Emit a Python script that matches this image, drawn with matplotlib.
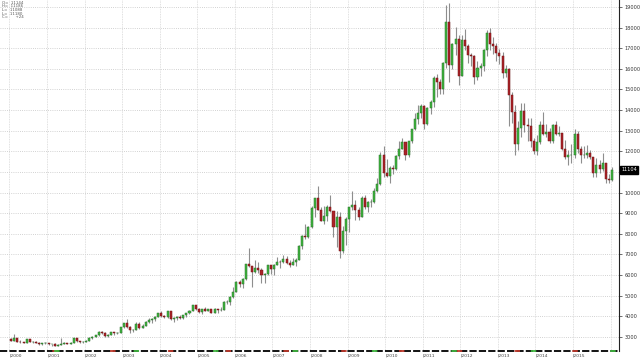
import numpy as np
import matplotlib
matplotlib.use("Agg")
import matplotlib.pyplot as plt
import matplotlib.transforms as mtransforms

# monthly candles, Jan 2000 .. Jan 2016
years = list(range(2000, 2017))
first_open = 2880

close = [
    2830, 2930, 2780, 2740, 2720, 2880, 2770, 2780, 2730, 2640, 2690, 2720,
    2650, 2670, 2580, 2630, 2660, 2700, 2650, 2730, 2930, 2790, 2750, 2780,
    2820, 2970, 3020, 3080, 3260, 3180, 3040, 3120, 3240, 3170, 3180, 3470,
    3670, 3470, 3340, 3360, 3640, 3460, 3540, 3750, 3840, 3860, 3980, 4160,
    4000, 3970, 4270, 3880, 3930, 3950, 3910, 4080, 4160, 4280, 4530, 4380,
    4220, 4350, 4280, 4350, 4160, 4350, 4290, 4330, 4690, 4700, 4950, 5170,
    5690, 5560, 5820, 6550, 6430, 6140, 6330, 6240, 5990, 6040, 6470, 6320,
    6500, 6650, 6630, 6800, 6600, 6500, 6660, 6730, 7430, 7900, 7830, 8340,
    9240, 9720, 9170, 8640, 8860, 9300, 9120, 8340, 8840, 7180, 8150, 8700,
    9280, 9420, 9170, 8840, 9750, 9280, 9540, 9550, 10070, 10400, 11810, 10970,
    10810, 11180, 11130, 11790, 12130, 12440, 11810, 12480, 13070, 13590, 13860, 14210,
    13330, 14110, 14390, 15570, 15360, 15000, 16280, 18280, 16200, 17220, 17460, 15660,
    17400, 17100, 16690, 16640, 15620, 16040, 16140, 16920, 17730, 17190, 17130, 16750,
    16630, 15780, 15970, 14720, 13930, 12340, 13120, 13960, 13270, 13230, 12500, 12020,
    12440, 13260, 12840, 12960, 12500, 13270, 12820, 12870, 12100, 11720, 11830, 11840,
    12830, 12130, 11830, 11830, 11900, 11720, 10950, 11350, 11150, 11420, 10650, 10610,
    11104,
]
high = [
    2930, 3160, 2940, 2870, 2780, 2920, 2900, 2800, 2790, 2740, 2700, 2750,
    2720, 2680, 2700, 2650, 2930, 2750, 2720, 2780, 2950, 2950, 2830, 2800,
    2840, 2990, 3040, 3090, 3270, 3300, 3250, 3150, 3260, 3250, 3230, 3490,
    3700, 3890, 3530, 3410, 3720, 3710, 3650, 3770, 3900, 3940, 4000, 4170,
    4270, 4090, 4280, 4280, 3950, 4000, 4080, 4090, 4180, 4320, 4560, 4560,
    4400, 4380, 4460, 4370, 4370, 4430, 4360, 4470, 4740, 4790, 4970, 5410,
    5700, 5750, 5840, 6560, 7300, 6450, 6750, 6640, 6340, 6090, 6500, 6500,
    6520, 6900, 6730, 6970, 6910, 6730, 6850, 6830, 7450, 7930, 8480, 8360,
    9340, 9750, 10330, 9310, 9370, 9420, 9880, 9130, 9090, 9050, 8380, 8810,
    9290, 10060, 9620, 9300, 9820, 9890, 9590, 9690, 10240, 10700, 11950, 12270,
    11620, 11270, 11350, 11810, 12490, 12650, 12450, 12500, 13100, 13880, 14240, 14310,
    14240, 14140, 14470, 15650, 15770, 15530, 16320, 19110, 19210, 17250, 18040, 17640,
    17630, 17910, 17200, 16780, 16690, 16400, 16290, 16950, 17900, 17960, 17550, 17230,
    16960, 16810, 16170, 16050, 14880, 14240, 13470, 14340, 14340, 13610, 13620, 12670,
    12800, 13450, 13920, 13310, 13150, 13320, 13450, 13230, 12900, 12550, 12080, 12380,
    13070, 12970, 12240, 12240, 12320, 12050, 11750, 11700, 11570, 11910, 11430, 10880,
    11230,
]
low = [
    2800, 2820, 2760, 2730, 2700, 2710, 2760, 2720, 2690, 2630, 2620, 2680,
    2620, 2550, 2560, 2550, 2620, 2650, 2640, 2640, 2700, 2760, 2700, 2720,
    2770, 2800, 2890, 2980, 3070, 3130, 3020, 3010, 3100, 3120, 3140, 3170,
    3430, 3430, 3190, 3220, 3350, 3410, 3420, 3520, 3670, 3670, 3770, 3960,
    3980, 3910, 3930, 3840, 3710, 3840, 3870, 3870, 3980, 4100, 4240, 4310,
    4180, 4110, 4240, 4240, 4140, 4150, 4170, 4260, 4320, 4610, 4560, 4910,
    5160, 5430, 5370, 5770, 6380, 5420, 6080, 6120, 5600, 5600, 6030, 6050,
    6030, 6470, 6350, 6610, 6550, 6410, 6470, 6420, 6710, 7270, 7740, 7820,
    8300, 8820, 9140, 8620, 8480, 8600, 9040, 7870, 7360, 6810, 7080, 7440,
    8090, 9170, 8660, 8650, 8800, 9190, 9080, 9320, 9480, 10020, 10380, 10750,
    10760, 10450, 10880, 11100, 11650, 12100, 11570, 11750, 12410, 13050, 13310, 13600,
    13090, 13300, 13810, 14170, 14620, 14770, 14780, 16050, 15350, 16010, 16670, 15230,
    15650, 16900, 16270, 16140, 15270, 15470, 15640, 15880, 16620, 16920, 16730, 16360,
    16260, 15550, 15620, 13210, 13380, 11800, 12080, 12700, 12920, 12510, 12210, 11850,
    11820, 12370, 12770, 12680, 12400, 12400, 12800, 12730, 12050, 11610, 11320, 11420,
    11670, 11910, 11420, 11700, 11700, 11620, 10770, 10780, 10970, 11070, 10460, 10460,
    10580,
]
y_ticks = list(range(3000, 20000, 1000))
last_label = "11104"
info_lines = ["O=  11144", "H=  11186", "L=  11088", "L=  11180", "C=      +24"]

close = np.array(close)
high = np.array(high)
low = np.array(low)
opens = np.concatenate([[first_open], close[:-1]])
x = np.arange(len(close))

fig = plt.figure(figsize=(6.4, 3.58), dpi=100)
ax = fig.add_axes([0, 7 / 358, 619 / 640, 351 / 358])
ax.set_xlim(-3.53, 194.2)
ax.set_ylim(2321, 19339)

# grid
for v in y_ticks:
    ax.axhline(v, color="#c4c4c4", lw=0.6, ls=(0, (1, 1.6)), zorder=0)
for i in range(len(years)):
    ax.axvline(12 * i - 0.5, color="#d6d6d6", lw=0.6, ls=(0, (1, 1)), zorder=0)

up = close >= opens
body_bot = np.minimum(opens, close)
body_h = np.abs(close - opens)

ax.vlines(x, low, high, color="#8e8e8e", lw=0.8, zorder=2)
ax.bar(x[up], body_h[up], bottom=body_bot[up], width=0.65,
       color="#3fb63f", edgecolor="#2a6e2a", linewidth=0.35, zorder=3)
ax.bar(x[~up], body_h[~up], bottom=body_bot[~up], width=0.65,
       color="#ad2228", edgecolor="#6e1414", linewidth=0.35, zorder=3)

# axes cosmetics
for s in ["left", "top", "bottom"]:
    ax.spines[s].set_visible(False)
ax.spines["right"].set_color("#222222")
ax.spines["right"].set_linewidth(0.8)
ax.yaxis.tick_right()
ax.set_yticks(y_ticks)
# the 11000 label sits under the last-price box
ax.set_yticklabels(["" if v == 11000 else str(v) for v in y_ticks],
                   fontsize=3.6, color="#333333")
ax.tick_params(axis="y", length=2, width=0.5, pad=2, colors="#333333")
ax.set_xticks([])

# bottom strip
ax.plot([0, 1], [0, 0], transform=ax.transAxes, color="black", lw=1.3,
        ls=(0, (4, 1.2)), clip_on=False, zorder=5)
ax.plot([0, 1], [0, 0], transform=ax.transAxes, color="#c0392b", lw=1.3,
        ls=(3, (3, 29)), clip_on=False, zorder=6)
ax.plot([0, 1], [0, 0], transform=ax.transAxes, color="#3fb63f", lw=1.3,
        ls=(14, (3, 41)), clip_on=False, zorder=6)

# year labels
trans = mtransforms.blended_transform_factory(ax.transData, ax.transAxes)
for i, yr in enumerate(years[:-1]):
    ax.text(12 * i - 0.5, -0.008, "|" + str(yr), transform=trans, ha="left",
            va="top", fontsize=3.2, color="#444444", clip_on=False)

# last price box
ax.text(1.004, float(last_label), last_label,
        transform=mtransforms.blended_transform_factory(ax.transAxes, ax.transData),
        ha="left", va="center", fontsize=3.6, color="white",
        bbox=dict(boxstyle="square,pad=0.25", fc="black", ec="black"),
        clip_on=False, zorder=10)

# top-left info
for k, line in enumerate(info_lines):
    fig.text(0.003, 1 - (2.5 + 3.7 * k) / 358, line, ha="left", va="center",
             fontsize=2.8, color="#555555")

fig.savefig("out.png", dpi=100)
